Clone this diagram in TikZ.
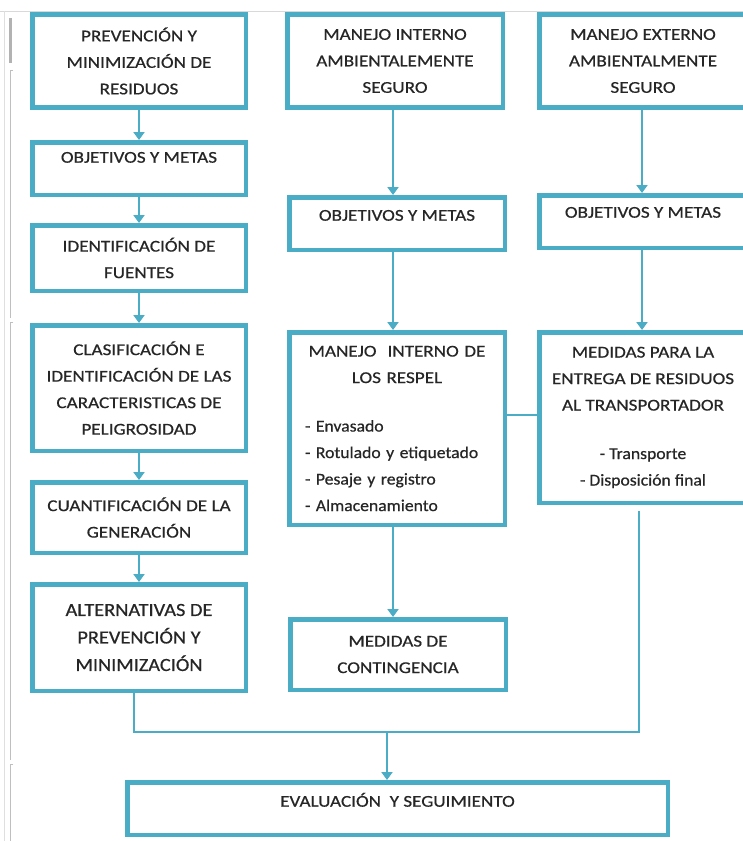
\documentclass[tikz,border=0pt]{standalone}
\usepackage{fontspec}
\setmainfont{Carlito}[FakeStretch=1.16, FakeBold=0.6]
\newfontfamily\lowf{Carlito}[FakeStretch=1.07, FakeBold=0.6]
\newfontfamily\altf{Carlito}[FakeStretch=1.1, FakeBold=0.6]
\usetikzlibrary{arrows.meta}
\definecolor{aqua}{HTML}{4BACC6}
\definecolor{txt}{HTML}{262626}
\begin{document}
\begin{tikzpicture}[x=1pt,y=-1pt,
  box/.style={draw=aqua, line width=4.5pt, fill=white, align=center, inner sep=0pt, outer sep=2.25pt, text=txt, font=\fontsize{16.5}{26.5}\selectfont},
  topt/.style={text height=10pt, text depth=#1},
  link/.style={draw=aqua, line width=2.8pt},
  arr/.style={link, -{Triangle[width=11pt,length=8pt]}},
  margin/.style={draw=gray!50, line width=0.9pt}]
\useasboundingbox (0,0) rectangle (743,841);
\clip (0,0) rectangle (743,841);
\fill[white] (0,0) rectangle (743,841);

% screenshot margin marks
\draw[draw=gray!30, line width=0.8pt] (0,11) -- (743,11);
\draw[draw=gray!25, line width=0.8pt] (4,11) -- (4,841);
\draw[draw=gray!60, line width=3pt] (10.5,18) -- (10.5,63);
\draw[margin] (13,70) -- (10.5,70) -- (10.5,318);
\draw[margin] (13,322) -- (10.5,322) -- (10.5,760);
\draw[margin] (13,764) -- (10.5,764) -- (10.5,841);

% left column
\node[box, minimum width=213.5pt, minimum height=93pt] (l1) at (139,61) {PREVENCIÓN Y\\MINIMIZACIÓN DE\\RESIDUOS};
\node[box, minimum width=213.5pt, minimum height=52.5pt, topt=21.6pt] (l2) at (139,168.5) {OBJETIVOS Y METAS};
\node[box, minimum width=213.5pt, minimum height=65.5pt] (l3) at (139,258) {IDENTIFICACIÓN DE\\FUENTES};
\node[box, minimum width=213.5pt, minimum height=125.5pt] (l4) at (139,388) {CLASIFICACIÓN E\\IDENTIFICACIÓN DE LAS\\CARACTERISTICAS DE\\PELIGROSIDAD};
\node[box, minimum width=213.5pt, minimum height=70.5pt] (l5) at (139,517.5) {CUANTIFICACIÓN DE LA\\GENERACIÓN};
\node[box, minimum width=213.5pt, minimum height=106.5pt, font=\altf\fontsize{18.5}{27.5}\selectfont] (l6) at (139,637.5) {ALTERNATIVAS DE\\PREVENCIÓN Y\\MINIMIZACIÓN};

% middle column
\node[box, minimum width=215.5pt, minimum height=93pt] (m1) at (395,61) {MANEJO INTERNO\\AMBIENTALEMENTE\\SEGURO};
\node[box, minimum width=215.5pt, minimum height=52.5pt, topt=15.6pt] (m2) at (397,223.5) {OBJETIVOS Y METAS};
\node[box, minimum width=215.5pt, minimum height=192.5pt, text width=184pt, align=left] (m3) at (397,428.5)
  {\makebox[184pt][c]{MANEJO\ \ INTERNO DE}\\\makebox[184pt][c]{LOS RESPEL}\\[22pt]{\lowf - Envasado}\\{\lowf - Rotulado y etiquetado}\\{\lowf - Pesaje y registro}\\{\lowf - Almacenamiento}};
\node[box, minimum width=215.5pt, minimum height=70.5pt] (m4) at (398,654.5) {MEDIDAS DE\\CONTINGENCIA};

% right column
\node[box, minimum width=207.5pt, minimum height=93pt] (r1) at (643,61) {MANEJO EXTERNO\\AMBIENTALMENTE\\SEGURO};
\node[box, minimum width=207.5pt, minimum height=52.5pt, topt=17.6pt] (r2) at (643,221.5) {OBJETIVOS Y METAS};
\node[box, minimum width=207.5pt, minimum height=170.5pt] (r3) at (643,417.5) {MEDIDAS PARA LA\\ENTREGA DE RESIDUOS\\AL TRANSPORTADOR\\[22pt]{\lowf - Transporte}\\{\lowf - Disposición final}};

% bottom
\node[box, minimum width=540.5pt, minimum height=52.5pt, topt=13.6pt] (ev) at (397.5,808.5) {EVALUACIÓN\ \ Y SEGUIMIENTO};

% arrows left column
\draw[arr] (l1.south) -- (l2.north);
\draw[arr] (l2.south) -- (l3.north);
\draw[arr] (l3.south) -- (l4.north);
\draw[arr] (l4.south) -- (l5.north);
\draw[arr] (l5.south) -- (l6.north);

% arrows middle column
\draw[arr] ([xshift=-2pt]m1.south) -- ([xshift=-2pt]m1.south |- m2.north);
\draw[arr] ([xshift=-4pt]m2.south) -- ([xshift=-4pt]m2.south |- m3.north);
\draw[arr] ([xshift=-4pt]m3.south) -- ([xshift=-4pt]m3.south |- m4.north);

% arrows right column
\draw[arr] ([xshift=-1pt]r1.south) -- ([xshift=-1pt]r1.south |- r2.north);
\draw[arr] ([xshift=-1pt]r2.south) -- ([xshift=-1pt]r2.south |- r3.north);

% link between m3 and r3
\draw[link] (r3.west |- 0,415) -- (m3.east |- 0,415);

% merge to evaluation
\coordinate (mj) at (387,732);
\draw[link, line join=miter] ([xshift=-5pt]l6.south) -- ([xshift=-5pt]l6.south |- mj) -- (639,732) -- ([xshift=-4pt,yshift=-6pt]r3.south);
\draw[arr] (mj) -- (mj |- ev.north);
\end{tikzpicture}
\end{document}
